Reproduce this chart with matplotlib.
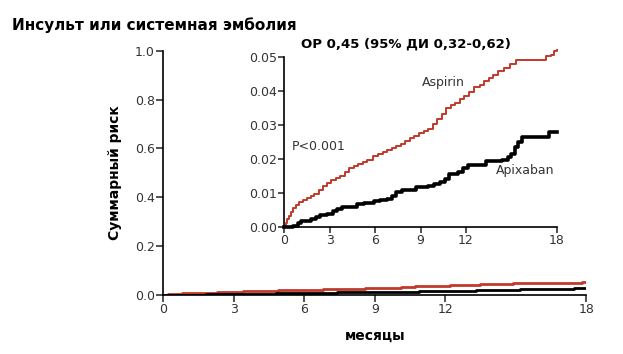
import matplotlib
matplotlib.use("Agg")
import matplotlib.pyplot as plt

# cumulative risk curves
asp_t = [0, 0.1, 0.2, 0.3, 0.45, 0.6, 0.8, 1.0, 1.25, 1.5, 1.75, 2.0, 2.3, 2.55, 2.8,
         3.1, 3.4, 3.7, 4.0, 4.3, 4.6, 4.9, 5.2, 5.5, 5.85, 6.2, 6.5, 6.8, 7.1, 7.4,
         7.7, 8.0, 8.3, 8.6, 8.9, 9.2, 9.5, 9.8, 10.1, 10.4, 10.7, 11.0, 11.3, 11.6,
         11.9, 12.2, 12.5, 12.9, 13.2, 13.5, 13.8, 14.1, 14.5, 14.9, 15.3, 17.1,
         17.3, 17.6, 17.8, 18.0]
asp_y = [0, 0.0012, 0.0024, 0.0033, 0.0045, 0.0056, 0.0064, 0.0072, 0.008, 0.0086,
         0.0091, 0.0097, 0.0108, 0.012, 0.013, 0.0138, 0.0145, 0.015, 0.0162, 0.0174,
         0.0178, 0.0184, 0.019, 0.0198, 0.021, 0.0214, 0.0219, 0.0225, 0.0231,
         0.0237, 0.0245, 0.0253, 0.0262, 0.0268, 0.0275, 0.0281, 0.0288, 0.0302,
         0.0318, 0.0333, 0.035, 0.0358, 0.0366, 0.0377, 0.0386, 0.0398, 0.0413,
         0.0418, 0.0428, 0.0438, 0.0448, 0.046, 0.0468, 0.048, 0.049, 0.049,
         0.0502, 0.0507, 0.0517, 0.052]
apx_t = [0, 0.6, 0.9, 1.1, 1.8, 2.1, 2.4, 2.8, 3.2, 3.5, 3.8, 4.8, 5.3, 5.9, 6.3, 6.8,
         7.1, 7.4, 7.8, 8.5, 8.7, 9.5, 9.9, 10.3, 10.6, 10.9, 11.5, 11.8, 12.1, 13.1,
         13.3, 14.4, 14.8, 15.0, 15.2, 15.4, 15.7, 17.3, 17.5, 18.0]
apx_y = [0, 0.0003, 0.0012, 0.0017, 0.0022, 0.003, 0.0036, 0.0038, 0.0046, 0.0053,
         0.006, 0.0068, 0.007, 0.0075, 0.0078, 0.0083, 0.0092, 0.0102, 0.0108, 0.011,
         0.0118, 0.012, 0.0125, 0.0133, 0.0142, 0.0155, 0.0162, 0.0172, 0.0181,
         0.0182, 0.0193, 0.0198, 0.0205, 0.0215, 0.0235, 0.025, 0.0265, 0.0265,
         0.0278, 0.0278]

x_ticks = [0, 3, 6, 9, 12, 18]
main_yticks = [0.0, 0.2, 0.4, 0.6, 0.8, 1.0]
inset_yticks = [0.0, 0.01, 0.02, 0.03, 0.04, 0.05]

RED = "#c0392b"
TXT = "#333333"

fig = plt.figure(figsize=(6.23, 3.54), dpi=100)

ax = fig.add_axes([0.262, 0.1667, 0.679, 0.69])
ax.step(asp_t, asp_y, where="post", color=RED, lw=2.0)
ax.step(apx_t, apx_y, where="post", color="black", lw=2.0)
ax.set_xlim(0, 18)
ax.set_ylim(0, 1.0)
ax.set_xticks(x_ticks)
ax.set_yticks(main_yticks)
ax.set_yticklabels(["%.1f" % v for v in main_yticks])
for s in ["top", "right"]:
    ax.spines[s].set_visible(False)
for s in ["left", "bottom"]:
    ax.spines[s].set_linewidth(1.2)
ax.tick_params(direction="out", length=5, width=1.2, labelsize=9, colors=TXT,
               pad=1)
ax.set_xlabel("месяцы", fontsize=10, fontweight="bold", labelpad=9)
ax.set_ylabel("Суммарный риск", fontsize=10, fontweight="bold", labelpad=9)

ins = fig.add_axes([0.456, 0.359, 0.438, 0.48])
ins.step(asp_t, asp_y, where="post", color=RED, lw=1.4, clip_on=False)
ins.step(apx_t, apx_y, where="post", color="black", lw=2.6, clip_on=False)
ins.set_xlim(0, 18)
ins.set_ylim(0, 0.05)
ins.set_xticks(x_ticks)
ins.set_yticks(inset_yticks)
ins.set_yticklabels(["%.2f" % v for v in inset_yticks])
for s in ["top", "right"]:
    ins.spines[s].set_visible(False)
for s in ["left", "bottom"]:
    ins.spines[s].set_linewidth(1.2)
ins.tick_params(direction="out", length=4, width=1.2, labelsize=9, colors=TXT,
                pad=1)
ins.text(10.5, 0.0415, "Aspirin", fontsize=9, color=TXT, ha="center")
ins.text(0.5, 0.0225, "P<0.001", fontsize=9, color=TXT, ha="left")
ins.text(15.9, 0.0155, "Apixaban", fontsize=9, color=TXT, ha="center")

fig.text(0.02, 0.915, "Инсульт или системная эмболия", fontsize=11,
         fontweight="bold")
fig.text(0.652, 0.865, "ОР 0,45 (95% ДИ 0,32-0,62)", fontsize=9.5,
         fontweight="bold", ha="center")

fig.savefig("out.png", dpi=100)
